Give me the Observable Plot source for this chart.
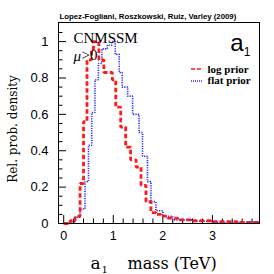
<!DOCTYPE html>
<html>
<head>
<meta charset="utf-8">
<script src="https://cdn.jsdelivr.net/npm/d3@7"></script>
<script src="https://cdn.jsdelivr.net/npm/@observablehq/plot@0.6"></script>
<style>
  html, body { margin: 0; padding: 0; background: #fff; }
  #chart { width: 274px; height: 274px; }
</style>
</head>
<body>
<div id="chart"></div>
<script>
// Log prior histogram (red dashed): bin left edges (TeV) and relative density
const logEdges = [0.0, 0.13, 0.23, 0.33, 0.40, 0.47, 0.56, 0.60, 0.71, 0.81, 0.98, 1.05, 1.15, 1.25, 1.35, 1.46, 1.56, 1.66, 1.76, 1.86, 1.96, 2.1, 2.3, 2.6, 3.0, 3.5, 3.95];
const logValues = [0.0, 0.015, 0.04, 0.22, 0.56, 0.90, 0.95, 1.0, 0.90, 0.83, 0.79, 0.64, 0.53, 0.42, 0.35, 0.31, 0.21, 0.12, 0.06, 0.05, 0.04, 0.03, 0.02, 0.015, 0.01, 0.006, 0.006];

// Flat prior histogram (blue dotted)
const flatEdges = [0.0, 0.13, 0.23, 0.33, 0.43, 0.50, 0.565, 0.63, 0.70, 0.77, 0.88, 0.97, 1.04, 1.12, 1.18, 1.29, 1.39, 1.52, 1.59, 1.69, 1.76, 1.86, 2.0, 2.2, 2.6, 3.0, 3.95];
const flatValues = [0.0, 0.01, 0.035, 0.08, 0.23, 0.43, 0.61, 0.79, 0.88, 0.96, 0.98, 1.0, 0.93, 0.83, 0.75, 0.70, 0.60, 0.50, 0.37, 0.23, 0.12, 0.07, 0.04, 0.02, 0.012, 0.006, 0.006];

// Axis ticks
const xMajor = [0, 1, 2, 3];
const xMinor = [0.2, 0.4, 0.6, 0.8, 1.2, 1.4, 1.6, 1.8, 2.2, 2.4, 2.6, 2.8, 3.2, 3.4, 3.6, 3.8];
const yMajor = [0, 0.2, 0.4, 0.6, 0.8, 1];
const yMinor = [0.05, 0.1, 0.15, 0.25, 0.3, 0.35, 0.45, 0.5, 0.55, 0.65, 0.7, 0.75, 0.85, 0.9, 0.95, 1.05];

const title = "Lopez-Fogliani, Roszkowski, Ruiz, Varley (2009)";
const seriesNames = ["log prior", "flat prior"];

const logData = logEdges.map((x, i) => ({x, y: logValues[i]}));
const flatData = flatEdges.map((x, i) => ({x, y: flatValues[i]}));

const W = 274, H = 274;
const mL = 58, mR = 15, mT = 22, mB = 51;
const innerW = W - mL - mR, innerH = H - mT - mB;

const serif = "'Liberation Serif', 'Times New Roman', serif";
const dserif = "'DejaVu Serif', serif";
const sans = "'Liberation Sans', Arial, sans-serif";

const plot = Plot.plot({
  width: W, height: H,
  marginLeft: mL, marginRight: mR, marginTop: mT, marginBottom: mB,
  style: {background: "#fff", fontFamily: sans},
  x: {domain: [-0.105, 3.95]},
  y: {domain: [0, 1.105]},
  marks: [
    Plot.axisX(xMajor, {tickSize: 0, tickPadding: 8, fontSize: 12.5, fontFamily: sans, label: null, tickFormat: d3.format("~g"), fill: "#000"}),
    Plot.axisY(yMajor, {tickSize: 0, tickPadding: 10, fontSize: 13, fontFamily: sans, label: null, tickFormat: d3.format("~g"), fill: "#000"}),
    Plot.tickX(xMajor, {x: d => d, insetTop: innerH - 8, stroke: "#000"}),
    Plot.tickX(xMinor, {x: d => d, insetTop: innerH - 4.5, stroke: "#000"}),
    Plot.tickY(yMajor, {y: d => d, insetRight: innerW - 8, stroke: "#000"}),
    Plot.tickY(yMinor, {y: d => d, insetRight: innerW - 4.5, stroke: "#000"}),
    Plot.line(flatData, {x: "x", y: "y", curve: "step-after", stroke: "#2a2aff", strokeWidth: 1.6, strokeDasharray: "1.2,1.2", strokeLinecap: "butt", strokeLinejoin: "miter"}),
    Plot.line(logData, {x: "x", y: "y", curve: "step-after", stroke: "#ff1a1a", strokeWidth: 2.8, strokeDasharray: "4.5,2.5", strokeLinecap: "butt", strokeLinejoin: "miter"}),
    Plot.frame({stroke: "#000", strokeWidth: 1}),
    // title
    Plot.text([title], {frameAnchor: "top-left", dy: -6, dx: 1, textAnchor: "start", lineAnchor: "middle", fontSize: 7.8, fontWeight: "bold", fontFamily: sans, fill: "#000"}),
    // CNMSSM / mu>0
    Plot.text(["CNMSSM"], {frameAnchor: "top-left", dx: 15, dy: 16, textAnchor: "start", lineAnchor: "middle", fontSize: 15, fontFamily: serif, fill: "#000"}),
    Plot.text(["μ"], {frameAnchor: "top-left", dx: 15, dy: 34, textAnchor: "start", lineAnchor: "middle", fontSize: 15, fontStyle: "italic", fontFamily: serif, fill: "#000"}),
    Plot.text([">0"], {frameAnchor: "top-left", dx: 23, dy: 33, textAnchor: "start", lineAnchor: "middle", fontSize: 15, fontFamily: serif, fill: "#000"}),
    // a1 label
    Plot.text(["a"], {frameAnchor: "top-right", dx: -16, dy: 21, textAnchor: "end", lineAnchor: "middle", fontSize: 24, fontFamily: sans, fill: "#000"}),
    Plot.text(["1"], {frameAnchor: "top-right", dx: -9, dy: 30, textAnchor: "end", lineAnchor: "middle", fontSize: 12, fontFamily: sans, fill: "#000"}),
    // legend labels
    Plot.text([seriesNames[0]], {frameAnchor: "top-left", dx: 149, dy: 47, textAnchor: "start", lineAnchor: "middle", fontSize: 11, fontWeight: "bold", fontFamily: serif, fill: "#000"}),
    Plot.text([seriesNames[1]], {frameAnchor: "top-left", dx: 149, dy: 58, textAnchor: "start", lineAnchor: "middle", fontSize: 11, fontWeight: "bold", fontFamily: serif, fill: "#000"}),
    // y axis label
    Plot.text(["Rel. prob. density"], {frameAnchor: "left", dx: -45, dy: 6, rotate: -90, textAnchor: "middle", lineAnchor: "middle", fontSize: 12, fontFamily: dserif, fill: "#000"}),
    // x axis label
    Plot.text(["a"], {frameAnchor: "bottom-left", dx: 32, dy: 40, textAnchor: "start", lineAnchor: "middle", fontSize: 17, fontFamily: dserif, fill: "#000"}),
    Plot.text(["1"], {frameAnchor: "bottom-left", dx: 43, dy: 46, textAnchor: "start", lineAnchor: "middle", fontSize: 10, fontFamily: dserif, fill: "#000"}),
    Plot.text(["mass (TeV)"], {frameAnchor: "bottom-left", dx: 69, dy: 40, textAnchor: "start", lineAnchor: "middle", fontSize: 16, fontFamily: dserif, fill: "#000"})
  ]
});

// legend swatches
const svg = d3.select(plot);
const lg = svg.append("g");
lg.append("line").attr("x1", 191).attr("x2", 202).attr("y1", 69).attr("y2", 69)
  .attr("stroke", "#ff1a1a").attr("stroke-width", 1.5).attr("stroke-dasharray", "4,2");
lg.append("line").attr("x1", 191).attr("x2", 202).attr("y1", 81).attr("y2", 81)
  .attr("stroke", "#2a2aff").attr("stroke-width", 1.5).attr("stroke-dasharray", "1,1");

document.getElementById("chart").appendChild(plot);
</script>
</body>
</html>
